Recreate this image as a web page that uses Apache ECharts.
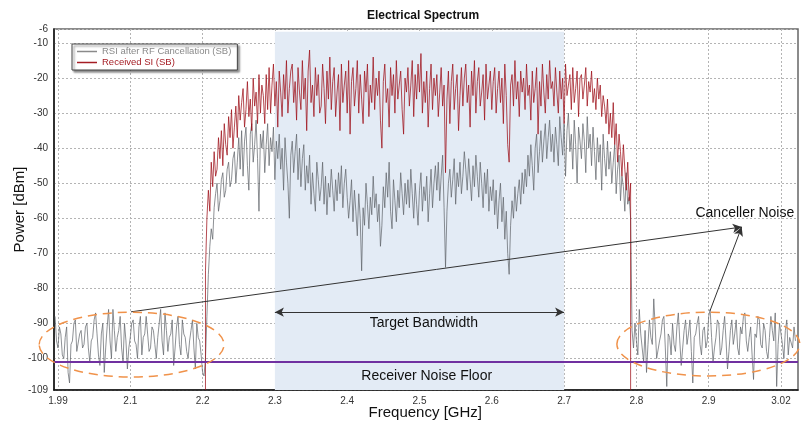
<!DOCTYPE html>
<html>
<head>
<meta charset="utf-8">
<script src="https://cdn.jsdelivr.net/npm/echarts@6/dist/echarts.min.js"></script>
<style>
  html, body { margin: 0; padding: 0; background: #fff; }
  #chart { width: 803px; height: 425px; }
</style>
</head>
<body>
<div id="chart"></div>
<script>
// sample grid of the analyser trace (GHz)
var freqStep = 0.002;
var grayStart = 1.996;
var redStart = 2.204;

// RSI after RF Cancellation (SB), dBm : left noise, band, right noise
var grayLeft = [
    -88, -95, -97, -91, -93, -99, -100, -94, -91, -104,
    -107, -96, -95, -90, -89, -98, -98, -93, -92, -97,
    -96, -91, -90, -97, -101, -95, -94, -89, -87, -93,
    -99, -102, -93, -90, -104, -97, -91, -86, -95, -100,
    -86, -92, -98, -94, -92, -88, -97, -101, -90, -95,
    -103, -97, -94, -90, -89, -95, -96, -100, -91, -88,
    -99, -94, -93, -88, -88, -98, -97, -91, -92, -96,
    -100, -94, -90, -86, -95, -99, -87, -92, -98, -94,
    -93, -89, -102, -97, -91, -88, -96, -99, -89, -93,
    -94, -98, -100, -95, -92, -89, -97, -103, -90, -94,
    -95, -99, -104, -105
];
var grayBand = [
    -100, -88, -76, -68, -63, -66, -57, -53, -50, -58, -55, -49, -47, -54, -52, -46, -44, -51, -49, -43,
    -41, -50, -44, -37, -46, -35, -48, -38, -34, -45, -52, -36, -33, -44, -39, -32, -43, -58, -36, -40,
    -35, -47, -39, -33, -45, -37, -41, -34, -49, -38, -43, -36, -46, -40, -52, -37, -44, -50, -60, -42,
    -38, -47, -41, -36, -49, -40, -51, -43, -39, -52, -45, -50, -42, -56, -47, -53, -58, -44, -49, -55,
    -51, -44, -56, -48, -59, -50, -54, -46, -52, -58, -49, -55, -47, -53, -45, -57, -50, -46, -54, -60,
    -55, -49, -61, -52, -58, -65, -53, -60, -75, -57, -62, -50, -56, -63, -54, -59, -48, -57, -53, -61,
    -56, -68, -62, -51, -57, -47, -54, -44, -58, -63, -49, -55, -61, -52, -57, -47, -53, -59, -50, -56,
    -49, -57, -46, -53, -60, -50, -56, -62, -52, -47, -58, -51, -55, -48, -61, -53, -46, -57, -50, -45,
    -52, -44, -55, -48, -42, -57, -74, -58, -50, -46, -54, -49, -43, -56, -47, -51, -44, -53, -48, -41,
    -46, -52, -43, -49, -55, -45, -51, -42, -48, -54, -44, -50, -57, -47, -53, -46, -58, -51, -55, -49,
    -59, -52, -63, -55, -50, -61, -54, -66, -58, -70, -76, -62, -55, -60, -51, -58, -53, -49, -56, -47,
    -53, -46, -51, -42, -48, -39, -45, -52, -40, -36, -47, -41, -35, -44, -38, -33, -43, -37, -32, -41,
    -36, -44, -34, -39, -45, -31, -37, -42, -33, -48, -35, -30, -41, -36, -46, -32, -39, -50, -34, -38,
    -43, -33, -38, -47, -31, -40, -36, -45, -34, -41, -49, -37, -44, -39, -52, -36, -43, -48, -38, -46,
    -41, -50, -44, -39, -53, -46, -42, -55, -48, -51, -58, -47, -56, -54, -60
];
var grayRight = [
    -92, -97, -90, -95, -99, -86, -93, -97, -101, -92,
    -104, -96, -89, -94, -96, -83, -91, -100, -100, -95,
    -93, -89, -88, -97, -108, -93, -94, -99, -90, -96,
    -98, -91, -87, -95, -102, -97, -92, -89, -96, -93,
    -89, -98, -107, -94, -93, -90, -88, -96, -99, -92,
    -91, -97, -95, -88, -86, -94, -101, -97, -94, -89,
    -90, -99, -97, -92, -88, -95, -103, -98, -92, -89,
    -96, -93, -89, -97, -99, -91, -93, -88, -87, -95,
    -98, -94, -91, -99, -106, -93, -94, -88, -89, -96,
    -97, -90, -92, -98, -100, -94, -88, -92, -95, -87,
    -108, -96, -90, -93, -96, -100, -92, -89, -99, -94,
    -94, -97, -91, -95
];

// Received SI (SB), dBm
var redValues = [
    -75, -60, -52, -58, -44, -51, -41, -48, -46, -37, -43, -35, -45, -33, -39, -42, -31, -37, -29, -40,
    -34, -28, -37, -25, -32, -27, -23, -34, -29, -21, -31, -26, -35, -20, -28, -24, -33, -19, -30, -22,
    -25, -33, -19, -29, -17, -30, -22, -16, -28, -21, -34, -18, -24, -31, -19, -26, -15, -30, -23, -18,
    -16, -27, -21, -32, -17, -24, -29, -15, -26, -20, -35, -18, -12, -27, -22, -31, -17, -25, -19, -30,
    -28, -16, -23, -33, -18, -26, -14, -29, -21, -17, -31, -24, -19, -35, -16, -27, -22, -18, -30, -15,
    -36, -21, -17, -28, -23, -15, -30, -19, -26, -33, -18, -24, -16, -31, -22, -27, -14, -29, -20, -25,
    -18, -32, -40, -21, -16, -27, -23, -34, -17, -25, -19, -30, -15, -26, -22, -18, -29, -36, -20, -24,
    -17, -28, -22, -15, -31, -19, -26, -16, -24, -13, -30, -21, -27, -18, -34, -23, -16, -29, -20, -25,
    -19, -31, -24, -17, -28, -22, -47, -26, -18, -33, -21, -16, -29, -23, -19, -35, -25, -17, -28, -20,
    -16, -27, -22, -34, -18, -25, -15, -30, -21, -17, -28, -24, -19, -32, -16, -26, -22, -18, -29, -21,
    -17, -30, -23, -18, -27, -20, -33, -16, -25, -39, -44, -22, -19, -28, -15, -26, -21, -31, -18, -24,
    -20, -29, -16, -25, -22, -32, -18, -27, -23, -17, -36, -21, -28, -16, -24, -30, -19, -26, -15, -23,
    -21, -28, -17, -24, -30, -18, -26, -20, -33, -16, -25, -22, -19, -29, -17, -27, -23, -18, -31, -20,
    -19, -26, -22, -17, -28, -21, -24, -18, -27, -23, -29, -20, -26, -22, -31, -25, -28, -33, -26, -36,
    -30, -37, -27, -39, -33, -44, -36, -41, -48, -39, -46, -52, -44, -55, -50
];
var redFloor = -109;   // red trace falls to the bottom at both band edges

var noiseFloor = -101;
var bandStart = 2.3, bandEnd = 2.7;

var xTickValues = [2.0, 2.1, 2.2, 2.3, 2.4, 2.5, 2.6, 2.7, 2.8, 2.9, 3.0];
var xTickLabels = ['1.99', '2.1', '2.2', '2.3', '2.4', '2.5', '2.6', '2.7', '2.8', '2.9', '3.02'];
var yTickValues = [-109, -100, -90, -80, -70, -60, -50, -40, -30, -20, -10, -6];

var grayName = 'RSI after RF Cancellation (SB)';
var redName = 'Received SI (SB)';

var grayValues = grayLeft.concat(grayBand, grayRight);
var grayData = grayValues.map(function (v, i) {
    return [+(grayStart + i * freqStep).toFixed(3), v];
});
var redEnd = +(redStart + (redValues.length - 1) * freqStep).toFixed(3);
var redData = [[redStart, redFloor]].concat(redValues.map(function (v, i) {
    return [+(redStart + i * freqStep).toFixed(3), v];
})).concat([[redEnd, redFloor]]);

var font = 'Liberation Sans, Arial, sans-serif';
var chart = echarts.init(document.getElementById('chart'));

var option = {
    animation: false,
    backgroundColor: '#fff',
    title: {
        text: 'Electrical Spectrum',
        left: 362, top: 5,
        textStyle: { fontSize: 12, fontWeight: 'bold', color: '#111', fontFamily: font }
    },
    legend: {
        orient: 'vertical',
        left: 72, top: 44,
        padding: [2, 6, 2, 5],
        itemGap: 0,
        itemWidth: 20, itemHeight: 1.5,
        icon: 'rect',
        backgroundColor: '#fff',
        borderColor: '#444', borderWidth: 1,
        shadowColor: 'rgba(0,0,0,0.45)', shadowBlur: 2, shadowOffsetX: 2, shadowOffsetY: 2,
        textStyle: { fontSize: 9.5, fontFamily: font, lineHeight: 11 },
        data: [
            { name: grayName, textStyle: { color: '#8a8a8a' } },
            { name: redName, textStyle: { color: '#a51d24' } }
        ]
    },
    grid: {
        left: 54, right: 5, top: 29, bottom: 35,
        outerBoundsMode: 'none',
        containLabel: false,
        show: true, borderColor: '#666', borderWidth: 1.5
    },
    xAxis: {
        type: 'value',
        min: 1.9945, max: 3.0235,
        axisLine: { lineStyle: { color: '#111', width: 1.5 } },
        axisTick: { show: false, customValues: xTickValues },
        axisLabel: {
            customValues: xTickValues,
            fontSize: 10, color: '#333', fontFamily: font, margin: 6,
            formatter: function (v) {
                for (var i = 0; i < xTickValues.length; i++) {
                    if (Math.abs(xTickValues[i] - v) < 1e-6) return xTickLabels[i];
                }
                return '';
            }
        },
        splitLine: { show: true, lineStyle: { color: '#b4b4b4', type: [2, 2], width: 1 } }
    },
    yAxis: {
        type: 'value',
        min: -109, max: -6,
        axisLine: { show: true, lineStyle: { color: '#111', width: 1.5 } },
        axisTick: { show: false, customValues: yTickValues },
        axisLabel: {
            customValues: yTickValues,
            fontSize: 10, color: '#333', fontFamily: font, margin: 6
        },
        splitLine: { show: true, lineStyle: { color: '#b4b4b4', type: [2, 2], width: 1 } },
        name: 'Power [dBm]',
        nameLocation: 'middle',
        nameGap: 27,
        nameMoveOverlap: false,
        nameTextStyle: { fontSize: 15, color: '#111', fontFamily: font }
    },
    series: [
        {
            name: grayName,
            type: 'line',
            data: grayData,
            symbol: 'none',
            z: 3,
            lineStyle: { color: '#5e6368', width: 1, opacity: 0.7 },
            itemStyle: { color: '#8a8a8a' },
            markArea: {
                silent: true,
                itemStyle: { color: '#e3ebf5' },
                data: [[{ xAxis: bandStart, yAxis: -109 }, { xAxis: bandEnd, yAxis: -6.8 }]]
            },
            markLine: {
                silent: true,
                symbol: ['none', 'none'],
                label: { show: false },
                lineStyle: { color: '#7030a0', width: 2, type: 'solid' },
                data: [{ yAxis: noiseFloor }]
            }
        },
        {
            name: redName,
            type: 'line',
            data: redData,
            symbol: 'none',
            z: 4,
            lineStyle: { color: '#9e1019', width: 1, opacity: 0.75 },
            itemStyle: { color: '#a51d24' },
            markLine: {
                silent: true,
                symbol: ['none', 'arrow'],
                symbolSize: [7, 9],
                label: { show: false },
                lineStyle: { color: '#333', width: 1, type: 'solid', opacity: 1 },
                data: [
                    [{ coord: [2.101, -86.7] }, { coord: [2.9456, -62.5] }],
                    [{ coord: [2.9018, -86.4] }, { coord: [2.9456, -62.5] }],
                    [{ coord: [2.5, -86.8], symbol: 'none' }, { coord: [2.7, -86.8] }],
                    [{ coord: [2.5, -86.8], symbol: 'none' }, { coord: [2.3, -86.8] }]
                ]
            }
        }
    ]
};

chart.setOption(option);

// annotations placed in data space
function px(x, y) {
    return chart.convertToPixel({ gridIndex: 0 }, [x, y]);
}
function ellipse(x0, x1, y0, y1) {
    var a = px(x0, y0), b = px(x1, y1);
    return {
        type: 'ellipse',
        silent: true,
        z: 10,
        shape: { cx: (a[0] + b[0]) / 2, cy: (a[1] + b[1]) / 2, rx: Math.abs(b[0] - a[0]) / 2, ry: Math.abs(b[1] - a[1]) / 2 },
        style: { fill: null, stroke: '#f0924a', lineWidth: 1.5, lineDash: [9, 6] }
    };
}
function label(text, x, y, align) {
    var p = px(x, y);
    return {
        type: 'text',
        silent: true,
        z: 10,
        x: p[0], y: p[1],
        style: { text: text, fill: '#111', font: '14px ' + font, align: align || 'center', verticalAlign: 'middle' }
    };
}

var xName = px(2.508, -109);
chart.setOption({
    graphic: [
        ellipse(1.974, 2.2296, -86.8, -105.3),
        ellipse(2.773, 3.026, -86.8, -105.0),
        label('Target Bandwidth', 2.506, -90.0),
        label('Receiver Noise Floor', 2.510, -105.0),
        label('Canceller Noise', 2.950, -58.5),
        {
            type: 'text', silent: true,
            x: xName[0], y: 413,
            style: { text: 'Frequency [GHz]', fill: '#111', font: '15px ' + font, align: 'center', verticalAlign: 'middle' }
        }
    ]
});
</script>
</body>
</html>
